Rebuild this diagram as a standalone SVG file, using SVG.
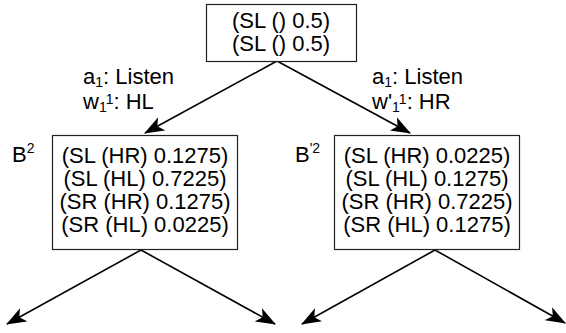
<svg xmlns="http://www.w3.org/2000/svg" width="566" height="333" viewBox="0 0 566 333">
<style>
text{font-family:"Liberation Sans",Arial,sans-serif;fill:#000}
.t{font-size:22px}
.l{font-size:22px}
.s{font-size:14px}
.box{fill:#fff;stroke:#222;stroke-width:1.2}
.edge{stroke:#000;stroke-width:1.6;fill:none}
</style>
<defs>
<marker id="ah" markerUnits="userSpaceOnUse" markerWidth="22" markerHeight="16" refX="19" refY="8" orient="auto">
<path d="M0,0.5 L20,8 L0,15.5 L5,8 Z" fill="#000"/>
</marker>
</defs>
<rect width="566" height="333" fill="#fff"/>
<g id="connectors">
<line class="edge" x1="277" y1="61" x2="145" y2="133" marker-end="url(#ah)"/>
<line class="edge" x1="277" y1="61" x2="410" y2="133" marker-end="url(#ah)"/>
<line class="edge" x1="141" y1="250" x2="7" y2="324" marker-end="url(#ah)"/>
<line class="edge" x1="141" y1="250" x2="275" y2="324" marker-end="url(#ah)"/>
<line class="edge" x1="435" y1="250" x2="302" y2="324" marker-end="url(#ah)"/>
<line class="edge" x1="435" y1="250" x2="565" y2="323" marker-end="url(#ah)"/>
</g>
<g id="root">
<rect class="box" x="206.5" y="4.5" width="150" height="57"/>
<text class="t" x="281" y="28" text-anchor="middle">(SL () 0.5)</text>
<text class="t" x="281" y="51" text-anchor="middle">(SL () 0.5)</text>
</g>
<g id="label-left">
<text class="l" x="83" y="84">a<tspan class="s" dy="3">1</tspan><tspan dy="-3">: Listen</tspan></text>
<text class="l" x="83" y="109">w<tspan class="s" dy="3">1</tspan><tspan class="s" dy="-8">1</tspan><tspan dy="5">: HL</tspan></text>
</g>
<g id="label-right">
<text class="l" x="372" y="84">a<tspan class="s" dy="3">1</tspan><tspan dy="-3">: Listen</tspan></text>
<text class="l" x="372" y="109">w'<tspan class="s" dy="3">1</tspan><tspan class="s" dy="-8">1</tspan><tspan dy="5">: HR</tspan></text>
</g>
<g id="B2">
<text class="l" x="12" y="162">B<tspan class="s" dy="-9">2</tspan></text>
<rect class="box" x="52.5" y="135.5" width="185" height="114"/>
<text class="t" x="145" y="163" text-anchor="middle">(SL (HR) 0.1275)</text>
<text class="t" x="145" y="186" text-anchor="middle">(SL (HL) 0.7225)</text>
<text class="t" x="145" y="209" text-anchor="middle">(SR (HR) 0.1275)</text>
<text class="t" x="145" y="232" text-anchor="middle">(SR (HL) 0.0225)</text>
</g>
<g id="Bp2">
<text class="l" x="295" y="162">B<tspan class="s" dy="-9">'2</tspan></text>
<rect class="box" x="334.5" y="135.5" width="185" height="114"/>
<text class="t" x="427" y="163" text-anchor="middle">(SL (HR) 0.0225)</text>
<text class="t" x="427" y="186" text-anchor="middle">(SL (HL) 0.1275)</text>
<text class="t" x="427" y="209" text-anchor="middle">(SR (HR) 0.7225)</text>
<text class="t" x="427" y="232" text-anchor="middle">(SR (HL) 0.1275)</text>
</g>
</svg>
